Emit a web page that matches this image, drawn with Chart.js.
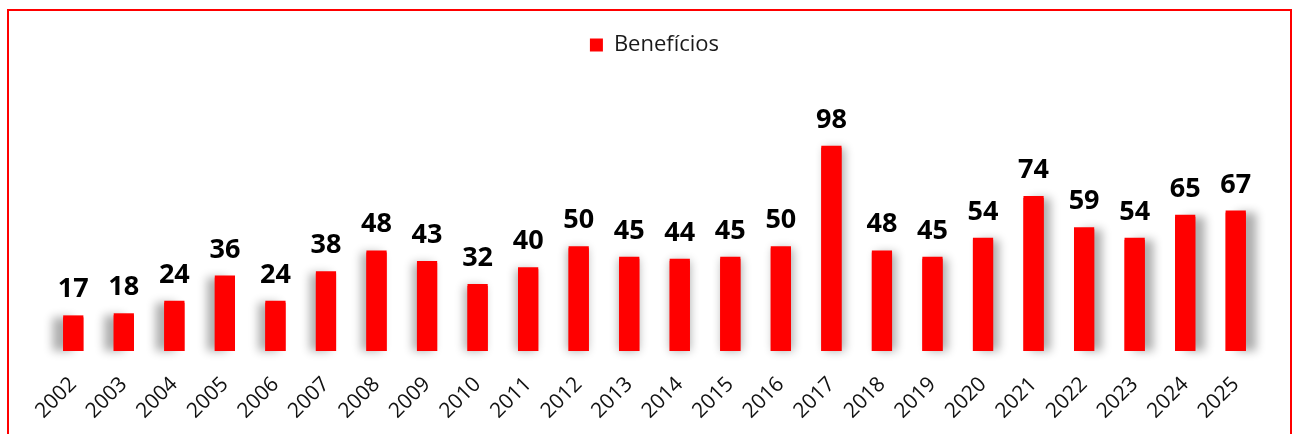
<html>
<head>
    <script src="https://cdn.jsdelivr.net/npm/chart.js@4.4.1/dist/chart.umd.min.js"></script>
    <style>
        body {
            margin: 0;
            background-color: #ffffff;
        }

        #frame {
            position: absolute;
            left: 7px;
            top: 9px;
            width: 1281px;
            height: 440px;
            border: 2px solid #ff0000;
            border-bottom: none;
        }

        #myChart {
            position: absolute;
            left: 0;
            top: 0;
        }
    </style>
</head>

<body>
    <div id="frame"></div>
    <canvas id="myChart" width="1296" height="434"></canvas>

    <script>
        // data
        var years = ['2002', '2003', '2004', '2005', '2006', '2007', '2008', '2009', '2010', '2011', '2012', '2013',
            '2014', '2015', '2016', '2017', '2018', '2019', '2020', '2021', '2022', '2023', '2024', '2025'];
        var beneficios = [17, 18, 24, 36, 24, 38, 48, 43, 32, 40, 50, 45, 44, 45, 50, 98, 48, 45, 54, 74, 59, 54, 65, 67];
        var seriesName = 'Benefícios';

        var fontName = '"Open Sans", sans-serif';

        // soft grey shadow behind every bar, pushed outwards from the middle
        var barShadow = {
            id: 'barShadow',
            beforeDatasetDraw: function (chart, args) {
                var ctx = chart.ctx;
                var area = chart.chartArea;
                var mid = (area.left + area.right) / 2;
                var half = (area.right - area.left) / 2;
                args.meta.data.forEach(function (bar) {
                    var p = bar.getProps(['x', 'y', 'base', 'width'], true);
                    ctx.save();
                    ctx.shadowColor = 'rgba(0, 0, 0, 0.32)';
                    ctx.shadowBlur = 10;
                    ctx.shadowOffsetX = 11 * (p.x - mid) / half;
                    ctx.shadowOffsetY = 0;
                    ctx.fillStyle = '#ff0000';
                    ctx.fillRect(p.x - p.width / 2, p.y + 2, p.width, p.base - p.y - 2);
                    ctx.restore();
                });
            }
        };

        // value written above each bar
        var barValues = {
            id: 'barValues',
            afterDatasetsDraw: function (chart) {
                var ctx = chart.ctx;
                var meta = chart.getDatasetMeta(0);
                var values = chart.data.datasets[0].data;
                ctx.save();
                ctx.font = 'bold 27px ' + fontName;
                ctx.fillStyle = '#000000';
                ctx.textAlign = 'center';
                ctx.textBaseline = 'alphabetic';
                meta.data.forEach(function (bar, i) {
                    ctx.fillText(values[i], bar.x, bar.y - 18);
                });
                ctx.restore();
            }
        };

        var paintingCanvas = document.getElementById('myChart').getContext('2d');
        var chart = new Chart(paintingCanvas, {
            type: 'bar',
            data: {
                labels: years,
                datasets: [{
                    label: seriesName,
                    data: beneficios,
                    backgroundColor: '#ff0000',
                    borderWidth: 0,
                    barPercentage: 0.4,
                    categoryPercentage: 1.0
                }]
            },
            options: {
                responsive: false,
                animation: false,
                layout: {
                    padding: { top: 24, left: 48, right: 35, bottom: 0 }
                },
                plugins: {
                    legend: {
                        position: 'top',
                        labels: {
                            boxWidth: 13,
                            boxHeight: 13,
                            color: '#1a1a1a',
                            font: { family: fontName, size: 22 }
                        }
                    },
                    tooltip: { enabled: false }
                },
                scales: {
                    x: {
                        grid: { display: false },
                        border: { display: false },
                        afterFit: function (scale) {
                            scale.height = 83;
                        },
                        ticks: {
                            minRotation: 45,
                            maxRotation: 45,
                            padding: 13,
                            color: '#111111',
                            font: { family: fontName, size: 21 }
                        }
                    },
                    y: {
                        display: false,
                        min: 0,
                        max: 136
                    }
                }
            },
            plugins: [barShadow, barValues]
        });
    </script>
</body>

</html>
